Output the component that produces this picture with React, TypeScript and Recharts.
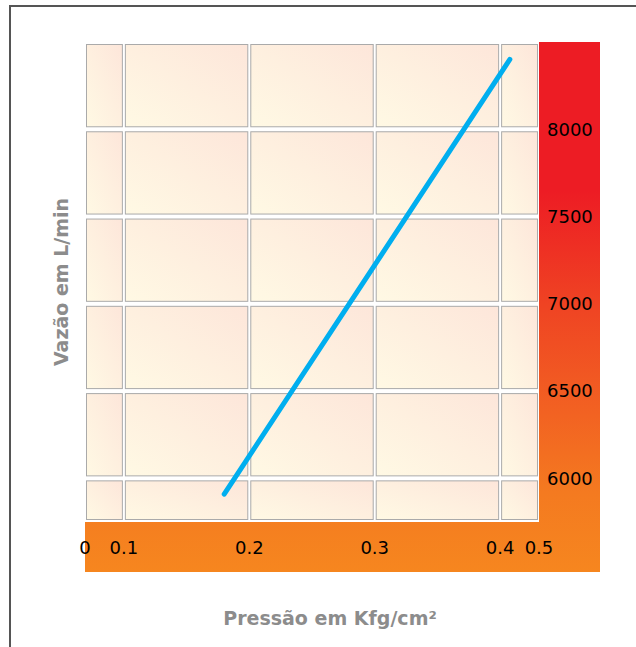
import { Label, Line, LineChart, ReferenceArea, XAxis, YAxis } from "recharts";

// pressure (Kgf/cm²) vs flow (L/min)
const pressure = [0.18, 0.425];
const flow = [5910, 8400];

const xTicks = [0, 0.1, 0.2, 0.3, 0.4, 0.5];
const xTickLabels = ["0", "0.1", "0.2", "0.3", "0.4", "0.5"];
// relative width of each column band on the axis (first and last are squeezed)
const xBandWeights = [0.31, 1, 1, 1, 0.31];

const yGrid = [5750, 6000, 6500, 7000, 7500, 8000, 8500];
const yTicks = [6000, 6500, 7000, 7500, 8000];

const xStops = xBandWeights.reduce<number[]>((acc, w) => [...acc, acc[acc.length - 1] + w], [0]);
const xMax = xStops[xStops.length - 1];

function toAxis(p: number) {
  for (let i = 0; i < xTicks.length - 1; i++) {
    if (p <= xTicks[i + 1]) {
      return xStops[i] + ((p - xTicks[i]) / (xTicks[i + 1] - xTicks[i])) * xBandWeights[i];
    }
  }
  return xMax;
}

const data = pressure.map((p, i) => ({ pos: toAxis(p), flow: flow[i] }));

const cells: { x1: number; x2: number; y1: number; y2: number }[] = [];
for (let i = 0; i < xStops.length - 1; i++) {
  for (let j = 0; j < yGrid.length - 1; j++) {
    cells.push({ x1: xStops[i], x2: xStops[i + 1], y1: yGrid[j], y2: yGrid[j + 1] });
  }
}

const CellShape = (props: any) => (
  <rect
    x={props.x + 1.5}
    y={props.y + 2.5}
    width={props.width - 3}
    height={props.height - 5}
    fill="url(#cellFill)"
    stroke="#aaaaaa"
    strokeWidth={1}
  />
);

export default function App() {
  return (
    <div
      style={{
        position: "absolute",
        left: 0,
        top: 0,
        width: 636,
        height: 647,
        background: "#fff",
        fontFamily: "'DejaVu Sans', sans-serif",
        overflow: "hidden",
      }}
    >
      <div
        style={{
          position: "absolute",
          left: 9,
          top: 5,
          width: 627,
          height: 642,
          borderTop: "2px solid #555",
          borderLeft: "2px solid #555",
          boxSizing: "border-box",
        }}
      />
      <div
        style={{
          position: "absolute",
          left: 85,
          top: 42,
          width: 515,
          height: 530,
          background:
            "linear-gradient(to bottom, #ed1c24 0%, #ed1c24 28%, #ef4423 50%, #f26222 70%, #f47a20 85%, #f6861f 100%)",
        }}
      />
      <div style={{ position: "absolute", left: 0, top: 0 }}>
        <LineChart width={636} height={647} data={data} margin={{ top: 42, right: 36, bottom: 75, left: 0 }}>
          <defs>
            <linearGradient id="cellFill" x1="0" y1="1" x2="1" y2="0">
              <stop offset="0%" stopColor="#fff9e4" />
              <stop offset="100%" stopColor="#fde6da" />
            </linearGradient>
          </defs>
          <XAxis
            dataKey="pos"
            type="number"
            domain={[0, xMax]}
            ticks={xStops}
            interval={0}
            allowDataOverflow
            tickFormatter={(v: number, i: number) => xTickLabels[i] ?? ""}
            tickLine={false}
            axisLine={false}
            height={50}
            tickMargin={13}
            tick={{ fill: "#000", fontSize: 18 }}
          >
            <Label
              value="Pressão em Kfg/cm²"
              position="bottom"
              offset={40}
              dx={18}
              style={{ fill: "#8c8c8c", fontWeight: "bold", fontSize: 19 }}
            />
          </XAxis>
          <YAxis
            yAxisId="left"
            orientation="left"
            type="number"
            domain={[yGrid[0], yGrid[yGrid.length - 1]]}
            width={85}
            tick={false}
            tickLine={false}
            axisLine={false}
          >
            <Label
              value="Vazão em L/min"
              angle={-90}
              position="center"
              dx={18.5}
              style={{ fill: "#8c8c8c", fontWeight: "bold", fontSize: 19, textAnchor: "middle" }}
            />
          </YAxis>
          <YAxis
            yAxisId="right"
            orientation="right"
            type="number"
            domain={[yGrid[0], yGrid[yGrid.length - 1]]}
            ticks={yTicks}
            interval={0}
            allowDataOverflow
            width={61}
            tickLine={false}
            axisLine={false}
            tick={{ fill: "#000", fontSize: 18, textAnchor: "start" }}
          />
          <ReferenceArea
            yAxisId="right"
            x1={0}
            x2={xMax}
            y1={yGrid[0]}
            y2={yGrid[yGrid.length - 1]}
            fill="#fff"
            fillOpacity={1}
            stroke="none"
          />
          {cells.map((c, k) => (
            <ReferenceArea key={k} yAxisId="right" x1={c.x1} x2={c.x2} y1={c.y1} y2={c.y2} shape={CellShape} />
          ))}
          <Line
            yAxisId="right"
            dataKey="flow"
            type="linear"
            stroke="#00aeef"
            strokeWidth={5}
            strokeLinecap="round"
            dot={false}
            isAnimationActive={false}
          />
        </LineChart>
      </div>
    </div>
  );
}
